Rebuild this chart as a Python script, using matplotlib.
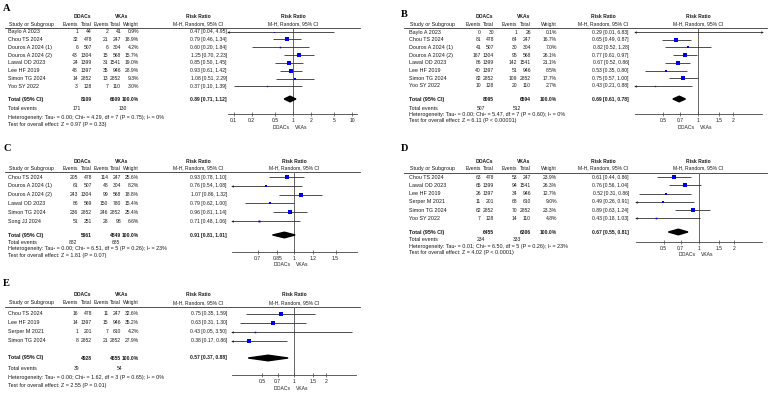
"""Five-panel forest plot (DOACs vs VKAs), RevMan style."""
import matplotlib
matplotlib.use("Agg")
import matplotlib.pyplot as plt
import numpy as np
from matplotlib.patches import Polygon
from matplotlib.ticker import NullLocator

plt.rcParams["font.family"] = ["Liberation Sans", "DejaVu Sans"]

W, H = 768, 394
FS = 3.6       # numeric columns, headers, ticks
FS_TXT = 3.9   # study names and footer lines
TXT = "#1a1a1a"
SQ = "#0000e6"

# ---------------- data ----------------
A_STUDY = ["Baylo A 2023", "Chou TS 2024", "Douros A 2024 (1)", "Douros A 2024 (2)",
           "Lawal OD 2023", "Lee HF 2019", "Simon TG 2024", "Yoo SY 2022"]
A_DOAC_EV = [1, 32, 6, 43, 24, 48, 14, 3]
A_DOAC_N = [44, 478, 507, 1304, 1399, 1397, 2852, 128]
A_VKA_EV = [2, 21, 6, 15, 31, 35, 13, 7]
A_VKA_N = [41, 247, 304, 568, 1541, 946, 2852, 110]
A_WEIGHT = [0.9, 18.9, 4.2, 15.7, 19.0, 28.9, 9.3, 3.0]
A_RR = [0.47, 0.79, 0.60, 1.25, 0.85, 0.93, 1.08, 0.37]
A_LO = [0.04, 0.46, 0.20, 0.70, 0.50, 0.61, 0.51, 0.10]
A_HI = [4.95, 1.34, 1.84, 2.23, 1.45, 1.42, 2.29, 1.39]
A_TOTAL = [8109, 6609]
A_TOTAL_EV = [171, 130]
A_POOLED = [0.89, 0.71, 1.12]
A_HET = "Heterogeneity: Tau² = 0.00; Chi² = 4.29, df = 7 (P = 0.75); I² = 0%"
A_TEST = "Test for overall effect: Z = 0.97 (P = 0.33)"
A_TICKS = [0.1, 0.2, 0.5, 1, 2, 5, 10]
A_TICKLABELS = ["0.1", "0.2", "0.5", "1", "2", "5", "10"]

B_STUDY = A_STUDY
B_DOAC_EV = [0, 81, 41, 167, 86, 40, 82, 10]
B_DOAC_N = [30, 478, 507, 1304, 1399, 1397, 2852, 128]
B_VKA_EV = [1, 64, 30, 95, 142, 51, 109, 20]
B_VKA_N = [26, 247, 304, 568, 1541, 946, 2852, 110]
B_WEIGHT = [0.1, 16.7, 7.0, 26.1, 21.1, 8.5, 17.7, 2.7]
B_RR = [0.29, 0.65, 0.82, 0.77, 0.67, 0.53, 0.75, 0.43]
B_LO = [0.01, 0.49, 0.52, 0.61, 0.52, 0.35, 0.57, 0.21]
B_HI = [6.83, 0.87, 1.28, 0.97, 0.86, 0.80, 1.00, 0.88]
B_TOTAL = [8095, 6594]
B_TOTAL_EV = [507, 512]
B_POOLED = [0.69, 0.61, 0.78]
B_HET = "Heterogeneity: Tau² = 0.00; Chi² = 5.47, df = 7 (P = 0.60); I² = 0%"
B_TEST = "Test for overall effect: Z = 6.11 (P < 0.00001)"
B_TICKS = [0.5, 0.7, 1, 1.5, 2]
B_TICKLABELS = ["0.5", "0.7", "1", "1.5", "2"]

C_STUDY = ["Chou TS 2024", "Douros A 2024 (1)", "Douros A 2024 (2)", "Lawal OD 2023",
           "Simon TG 2024", "Song JJ 2024"]
C_DOAC_EV = [205, 61, 243, 86, 236, 51]
C_DOAC_N = [478, 507, 1304, 569, 2852, 251]
C_VKA_EV = [114, 48, 99, 150, 246, 28]
C_VKA_N = [247, 304, 568, 780, 2852, 98]
C_WEIGHT = [25.6, 8.2, 18.8, 15.4, 25.4, 6.6]
C_RR = [0.93, 0.76, 1.07, 0.79, 0.96, 0.71]
C_LO = [0.78, 0.54, 0.86, 0.62, 0.81, 0.48]
C_HI = [1.10, 1.08, 1.32, 1.00, 1.14, 1.06]
C_TOTAL = [5961, 4849]
C_TOTAL_EV = [882, 685]
C_POOLED = [0.91, 0.81, 1.01]
C_HET = "Heterogeneity: Tau² = 0.00; Chi² = 6.51, df = 5 (P = 0.26); I² = 23%"
C_TEST = "Test for overall effect: Z = 1.81 (P = 0.07)"
C_TICKS = [0.7, 0.85, 1, 1.2, 1.5]
C_TICKLABELS = ["0.7", "0.85", "1", "1.2", "1.5"]

D_STUDY = ["Chou TS 2024", "Lawal OD 2023", "Lee HF 2019", "Serper M 2021",
           "Simon TG 2024", "Yoo SY 2022"]
D_DOAC_EV = [63, 65, 26, 11, 62, 7]
D_DOAC_N = [478, 1399, 1397, 201, 2852, 128]
D_VKA_EV = [53, 94, 34, 68, 70, 14]
D_VKA_N = [247, 1541, 946, 610, 2852, 110]
D_WEIGHT = [23.9, 26.3, 12.7, 9.0, 23.3, 4.8]
D_RR = [0.61, 0.76, 0.52, 0.49, 0.89, 0.43]
D_LO = [0.44, 0.56, 0.31, 0.26, 0.63, 0.18]
D_HI = [0.86, 1.04, 0.86, 0.91, 1.24, 1.03]
D_TOTAL = [6455, 6306]
D_TOTAL_EV = [234, 333]
D_POOLED = [0.67, 0.55, 0.81]
D_HET = "Heterogeneity: Tau² = 0.01; Chi² = 6.50, df = 5 (P = 0.26); I² = 23%"
D_TEST = "Test for overall effect: Z = 4.02 (P < 0.0001)"
D_TICKS = B_TICKS
D_TICKLABELS = B_TICKLABELS

E_STUDY = ["Chou TS 2024", "Lee HF 2019", "Serper M 2021", "Simon TG 2024"]
E_DOAC_EV = [16, 14, 1, 8]
E_DOAC_N = [478, 1397, 201, 2852]
E_VKA_EV = [11, 15, 7, 21]
E_VKA_N = [247, 946, 610, 2852]
E_WEIGHT = [32.6, 35.2, 4.2, 27.9]
E_RR = [0.75, 0.63, 0.43, 0.38]
E_LO = [0.35, 0.31, 0.05, 0.17]
E_HI = [1.59, 1.30, 3.50, 0.86]
E_TOTAL = [4928, 4655]
E_TOTAL_EV = [39, 54]
E_POOLED = [0.57, 0.37, 0.88]
E_HET = "Heterogeneity: Tau² = 0.00; Chi² = 1.62, df = 3 (P = 0.65); I² = 0%"
E_TEST = "Test for overall effect: Z = 2.55 (P = 0.01)"
E_TICKS = B_TICKS
E_TICKLABELS = B_TICKLABELS

# ---------------- layout (pixel positions) ----------------
# study left, DOAC events/total right, VKA events/total right, weight right, RR right
LEFT_COLS = (8, 78, 92, 108.5, 121, 139, 227)
RIGHT_COLS = (409, 481, 494, 517, 531, 557, 629)

LAYOUT = {
    "A": dict(label=(3, 8), group_y=16.5, head_y=24, line_y=27.5, line_x=(5, 360),
              row0=31.5, step=7.85, total_y=99, events_y=108, het_y=117.5, test_y=124.5,
              cols=LEFT_COLS, group_x=(82, 122), rr_head=198, events_x=(77, 123),
              plot_x=(228, 357), axis_y=114, xlim=(0.08, 12)),
    "B": dict(label=(401, 14), group_y=16.5, head_y=24, line_y=27.5, line_x=(404, 767),
              row0=32, step=7.7, total_y=99, events_y=108, het_y=114, test_y=120,
              cols=RIGHT_COLS, group_x=(484, 524), rr_head=603, events_x=(481, 517),
              plot_x=(635, 762), axis_y=114, xlim=(0.29, 3.5)),
    "C": dict(label=(3, 148), group_y=161, head_y=168, line_y=171.5, line_x=(5, 360),
              row0=177, step=8.8, total_y=235, events_y=242, het_y=248.5, test_y=255,
              cols=LEFT_COLS, group_x=(82, 122), rr_head=198, events_x=(73, 116),
              plot_x=(232, 357), axis_y=252, xlim=(0.545, 1.85)),
    "D": dict(label=(401, 148), group_y=161, head_y=168, line_y=172.5, line_x=(404, 767),
              row0=177, step=8.3, total_y=232, events_y=239, het_y=246, test_y=252,
              cols=RIGHT_COLS, group_x=(484, 524), rr_head=603, events_x=(481, 517),
              plot_x=(636, 762), axis_y=242, xlim=(0.29, 3.5)),
    "E": dict(label=(3, 283), group_y=295, head_y=302.5, line_y=307, line_x=(5, 360),
              row0=313.5, step=9.0, total_y=358, events_y=368, het_y=377, test_y=385,
              cols=LEFT_COLS, group_x=(82, 122), rr_head=198, events_x=(77, 120),
              plot_x=(232, 356), axis_y=375, xlim=(0.26, 3.85)),
}

PANELS = {
    "A": (A_STUDY, A_DOAC_EV, A_DOAC_N, A_VKA_EV, A_VKA_N, A_WEIGHT, A_RR, A_LO, A_HI,
          A_TOTAL, A_TOTAL_EV, A_POOLED, A_HET, A_TEST, A_TICKS, A_TICKLABELS),
    "B": (B_STUDY, B_DOAC_EV, B_DOAC_N, B_VKA_EV, B_VKA_N, B_WEIGHT, B_RR, B_LO, B_HI,
          B_TOTAL, B_TOTAL_EV, B_POOLED, B_HET, B_TEST, B_TICKS, B_TICKLABELS),
    "C": (C_STUDY, C_DOAC_EV, C_DOAC_N, C_VKA_EV, C_VKA_N, C_WEIGHT, C_RR, C_LO, C_HI,
          C_TOTAL, C_TOTAL_EV, C_POOLED, C_HET, C_TEST, C_TICKS, C_TICKLABELS),
    "D": (D_STUDY, D_DOAC_EV, D_DOAC_N, D_VKA_EV, D_VKA_N, D_WEIGHT, D_RR, D_LO, D_HI,
          D_TOTAL, D_TOTAL_EV, D_POOLED, D_HET, D_TEST, D_TICKS, D_TICKLABELS),
    "E": (E_STUDY, E_DOAC_EV, E_DOAC_N, E_VKA_EV, E_VKA_N, E_WEIGHT, E_RR, E_LO, E_HI,
          E_TOTAL, E_TOTAL_EV, E_POOLED, E_HET, E_TEST, E_TICKS, E_TICKLABELS),
}


def txt(bg, x, y, s, ha="left", bold=False, fs=FS):
    bg.text(x, y, s, ha=ha, va="center", fontsize=fs, color=TXT,
            fontweight="bold" if bold else "normal")


def draw_panel(fig, bg, name, lay, data):
    (study, d_ev, d_n, v_ev, v_n, weight, rr, lo, hi,
     total, total_ev, pooled, het, test, ticks, ticklabels) = data
    c = lay["cols"]

    bg.text(*lay["label"], name, ha="left", va="center", fontsize=7.5,
            fontweight="bold", family="Liberation Serif", color="black")

    # header
    txt(bg, lay["group_x"][0], lay["group_y"], "DOACs", ha="center", bold=True)
    txt(bg, lay["group_x"][1], lay["group_y"], "VKAs", ha="center", bold=True)
    txt(bg, lay["rr_head"], lay["group_y"], "Risk Ratio", ha="center", bold=True)
    txt(bg, c[0] + 1, lay["head_y"], "Study or Subgroup", fs=FS_TXT)
    for x, s in zip(c[1:6], ["Events", "Total", "Events", "Total", "Weight"]):
        txt(bg, x, lay["head_y"], s, ha="right")
    txt(bg, lay["rr_head"], lay["head_y"], "M-H, Random, 95% CI", ha="center")
    bg.plot(lay["line_x"], [lay["line_y"]] * 2, color="#333333", lw=0.6)

    # study rows
    ys = [lay["row0"] + i * lay["step"] for i in range(len(study))]
    for i, y in enumerate(ys):
        txt(bg, c[0], y, study[i], fs=FS_TXT)
        txt(bg, c[1], y, str(d_ev[i]), ha="right")
        txt(bg, c[2], y, str(d_n[i]), ha="right")
        txt(bg, c[3], y, str(v_ev[i]), ha="right")
        txt(bg, c[4], y, str(v_n[i]), ha="right")
        txt(bg, c[5], y, f"{weight[i]:.1f}%", ha="right")
        txt(bg, c[6], y, f"{rr[i]:.2f} [{lo[i]:.2f}, {hi[i]:.2f}]", ha="right")

    # totals
    ty = lay["total_y"]
    txt(bg, c[0], ty, "Total (95% CI)", bold=True, fs=FS_TXT)
    txt(bg, c[2], ty, str(total[0]), ha="right", bold=True)
    txt(bg, c[4], ty, str(total[1]), ha="right", bold=True)
    txt(bg, c[5], ty, "100.0%", ha="right", bold=True)
    txt(bg, c[6], ty, f"{pooled[0]:.2f} [{pooled[1]:.2f}, {pooled[2]:.2f}]",
        ha="right", bold=True)
    txt(bg, c[0], lay["events_y"], "Total events", fs=FS_TXT)
    txt(bg, lay["events_x"][0], lay["events_y"], str(total_ev[0]), ha="center")
    txt(bg, lay["events_x"][1], lay["events_y"], str(total_ev[1]), ha="center")
    txt(bg, c[0], lay["het_y"], het, fs=FS_TXT)
    txt(bg, c[0], lay["test_y"], test, fs=FS_TXT)

    # forest axes
    x0, x1 = lay["plot_x"]
    top, bot = lay["line_y"], lay["axis_y"]
    ax = fig.add_axes([x0 / W, 1 - bot / H, (x1 - x0) / W, (bot - top) / H])
    ax.set_xscale("log")
    ax.set_xlim(*lay["xlim"])
    ax.set_ylim(bot, top)
    ax.patch.set_alpha(0)
    for side in ("top", "left", "right"):
        ax.spines[side].set_visible(False)
    ax.spines["bottom"].set_color("#444444")
    ax.spines["bottom"].set_linewidth(0.6)
    ax.set_yticks([])
    ax.set_xticks(ticks)
    ax.set_xticklabels(ticklabels)
    ax.xaxis.set_minor_locator(NullLocator())
    ax.tick_params(axis="x", direction="inout", length=3, width=0.5, pad=1.2,
                   labelsize=FS, colors="#444444", labelcolor=TXT)
    ax.axvline(1, color="#666666", lw=0.7, zorder=1)

    xmin, xmax = lay["xlim"]
    for i, y in enumerate(ys):
        ax.hlines(y, lo[i], hi[i], color="#303030", lw=0.6, zorder=2)
        ax.plot(rr[i], y, marker="s", ms=max(0.6, 0.55 * np.sqrt(weight[i])),
                color=SQ, mew=0, zorder=3)
        if lo[i] < xmin:
            ax.plot(xmin, y, marker="<", ms=1.8, color="#202020", mew=0, clip_on=False)
        if hi[i] > xmax:
            ax.plot(xmax, y, marker=">", ms=1.8, color="#202020", mew=0, clip_on=False)

    dh = 2.8
    ax.add_patch(Polygon([(pooled[1], ty), (pooled[0], ty - dh), (pooled[2], ty),
                          (pooled[0], ty + dh)], closed=True, color="black", zorder=4))

    # plot headers and direction labels, x anchored at RR = 1
    coords = (ax.transData, bg.transData)
    for y, s, bold in [(lay["group_y"], "Risk Ratio", True),
                       (lay["head_y"], "M-H, Random, 95% CI", False)]:
        bg.annotate(s, xy=(1, y), xycoords=coords, ha="center", va="center",
                    fontsize=FS, color=TXT, fontweight="bold" if bold else "normal")
    bg.annotate("DOACs", xy=(1, bot + 13), xycoords=coords, xytext=(-2.5, 0),
                textcoords="offset points", ha="right", va="center", fontsize=FS, color=TXT)
    bg.annotate("VKAs", xy=(1, bot + 13), xycoords=coords, xytext=(1.5, 0),
                textcoords="offset points", ha="left", va="center", fontsize=FS, color=TXT)


def main():
    fig = plt.figure(figsize=(W / 100, H / 100), dpi=100)
    fig.patch.set_facecolor("white")
    bg = fig.add_axes([0, 0, 1, 1])
    bg.set_xlim(0, W)
    bg.set_ylim(H, 0)
    bg.axis("off")
    for name, lay in LAYOUT.items():
        draw_panel(fig, bg, name, lay, PANELS[name])
    fig.savefig("out.png", dpi=100, facecolor="white")
    plt.close(fig)


if __name__ == "__main__":
    main()
